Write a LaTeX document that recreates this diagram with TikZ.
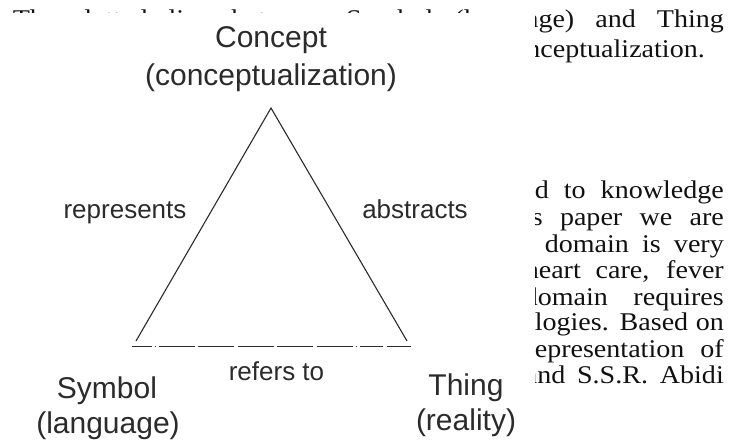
\documentclass[tikz,border=0pt]{standalone}
\usepackage{fontspec}
\newfontfamily\labelfont{Liberation Sans}
\newfontfamily\pagefont{Liberation Serif}[FakeStretch=1.1]
\usepackage{xcolor}
\definecolor{ink}{HTML}{2B2B2B}
\definecolor{pagetext}{HTML}{111111}
\newcommand{\spread}[2]{\makebox[#1][s]{#2}}
\tikzset{
  vert/.style={anchor=base,text=ink,inner sep=0pt,font=\labelfont\fontsize{30}{36}\selectfont},
  rel/.style={anchor=base,text=ink,inner sep=0pt,font=\labelfont\fontsize{26}{31}\selectfont},
  side/.style={draw=ink,line width=1.1pt},
  link/.style={draw=ink,line width=1.2pt,
    dash pattern=on 20pt off 2.5pt on 1.5pt off 2.5pt on 36pt off 3.5pt on 36pt off 3.5pt on 36pt off 3.5pt on 36pt off 3.5pt on 36pt off 3pt on 1.5pt off 3pt on 23pt off 4pt on 30pt off 4pt},
  page/.style={anchor=base east,inner sep=0pt,text=pagetext,font=\pagefont\fontsize{25.5}{26.5}\selectfont},
}

\begin{document}
\begin{tikzpicture}[x=1pt,y=-1pt]
  \useasboundingbox (0,0) rectangle (735,445);

  % page text behind the figure
  \node[page] (p1)  at (724,27)  {\spread{711pt}{The dotted line between Symbol (language) and Thing}};
  \node[page] (p2)  at (705,57)  {nceptualization.};
  \node[page] (p3)  at (724,198) {\spread{189pt}{d to knowledge}};
  \node[page] (p4)  at (724,225) {\spread{192pt}{s paper we are}};
  \node[page] (p5)  at (724,252) {\spread{179pt}{domain is very}};
  \node[page] (p6)  at (724,278) {\spread{199pt}{heart care, fever}};
  \node[page] (p7)  at (724,305) {\spread{200pt}{domain requires}};
  \node[page] (p8)  at (724,330) {\spread{189pt}{logies. Based on}};
  \node[page] (p9)  at (724,357) {\spread{189pt}{epresentation of}};
  \node[page] (p10) at (724,383) {\spread{199pt}{and S.S.R. Abidi}};
  \fill[white] (0,13) rectangle (535,445);

  % semiotic triangle
  \coordinate (apex)  at (271,108);
  \coordinate (lfoot) at (136,341);
  \coordinate (rfoot) at (407,341);
  \coordinate (lend)  at (132,346.5);
  \coordinate (rend)  at (411,346.5);
  \draw[side] (lfoot) -- (apex) -- (rfoot);
  \draw[link] (lend) -- (rend);

  \node[vert] (concept)  at (271,47)  {Concept};
  \node[vert] (conceptb) at (271,85)  {(conceptualization)};
  \node[vert] (symbol)   at (107,398) {Symbol};
  \node[vert] (symbolb)  at (108,433) {(language)};
  \node[vert] (thing)    at (466,395) {Thing};
  \node[vert] (thingb)   at (466,430) {(reality)};

  \node[rel] (repr) at (125,218)   {represents};
  \node[rel] (abst) at (415,218)   {abstracts};
  \node[rel] (refr) at (276.5,380) {refers to};
\end{tikzpicture}
\end{document}
